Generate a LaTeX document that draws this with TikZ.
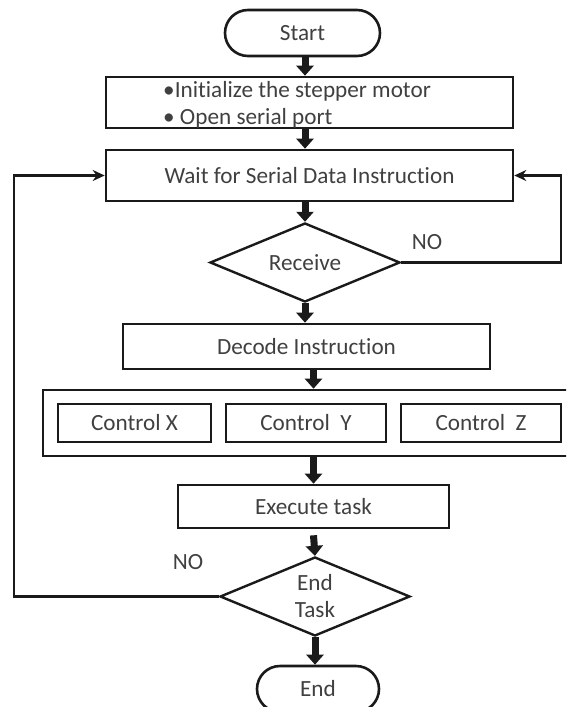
\documentclass[tikz,border=0pt]{standalone}
\usepackage{fontspec}
\setmainfont[Ligatures=NoCommon]{Carlito}
\usetikzlibrary{arrows.meta,shapes.geometric,shapes.misc}
\definecolor{inkline}{HTML}{1A1A1A}
\definecolor{inktext}{HTML}{404040}

\begin{document}
\begin{tikzpicture}[x=1pt,y=-1pt,
  every node/.style={text=inktext, font=\fontsize{23.2}{27}\selectfont},
  box/.style={draw=inkline, line width=2.6pt, rectangle, inner sep=0pt},
  term/.style={draw=inkline, line width=2.6pt, rounded rectangle, inner sep=0pt},
  decision/.style={draw=inkline, line width=2.4pt, diamond, aspect=2.4, inner sep=0pt,
                   minimum width=190pt, minimum height=79pt},
  flow/.style={draw=inkline, line width=7pt, -{Triangle[length=10pt,width=17pt]}},
  loopback/.style={draw=inkline, line width=2.4pt, -{Stealth[length=12pt,width=11pt]}}]

\useasboundingbox (0,0) rectangle (566,707);
\clip (0,0) rectangle (566,707);

% process blocks
\node[term, minimum width=155pt, minimum height=46pt] (start) at (302.5,33) {Start};
\node[box, minimum width=407pt, minimum height=51pt] (init) at (309.5,102.5) {};
\node[anchor=west, align=left, inner sep=0pt] (inittext) at (163,105)
  {•Initialize the stepper motor\\• Open serial port};
\node[box, minimum width=407pt, minimum height=51pt] (wait) at (309.5,175.5)
  {Wait for Serial Data Instruction};
\node[decision] (recv) at (305,262.5) {Receive};
\node (no1) at (427,242) {NO};
\node[box, minimum width=367pt, minimum height=45pt] (decode) at (306.5,346.5)
  {Decode Instruction};

% axis controllers
\node[box, minimum width=557pt, minimum height=66pt] (ctrl) at (321.5,423) {};
\node[box, minimum width=153pt, minimum height=38pt] (cx) at (134.5,423) {Control X};
\node[box, minimum width=160pt, minimum height=38pt] (cy) at (306,423) {Control\ \ Y};
\node[box, minimum width=160pt, minimum height=38pt] (cz) at (481,423) {Control\ \ Z};

\node[box, minimum width=271pt, minimum height=43pt] (exec) at (313.5,506.5) {Execute task};
\node[decision, align=center] (endtask) at (315,596.5) {End\\Task};
\node (no2) at (188,562) {NO};
\node[term, minimum width=122pt, minimum height=46pt] (stop) at (318,689) {End};

% main flow
\draw[flow] (start.south -| recv) -- (init.north -| recv);
\draw[flow] (init.south -| recv) -- (wait.north -| recv);
\draw[flow] (wait.south -| recv) -- (recv.north);
\draw[flow] (recv.south) -- (decode.north -| recv);
\draw[flow] (decode.south -| exec) -- (ctrl.north -| exec);
\draw[flow] (ctrl.south -| exec) -- (exec.north);
\draw[flow] ([yshift=-6pt]exec.south) -- (endtask.north);
\draw[flow] (endtask.south) -- (stop.north -| endtask);

% return paths
\coordinate (rloop) at (561,0);
\coordinate (lloop) at (14,0);
\draw[loopback] (recv.east) -- (recv.east -| rloop) |- (wait.east);
\draw[loopback] (endtask.west) -- (endtask.west -| lloop) |- (wait.west);
\end{tikzpicture}
\end{document}
